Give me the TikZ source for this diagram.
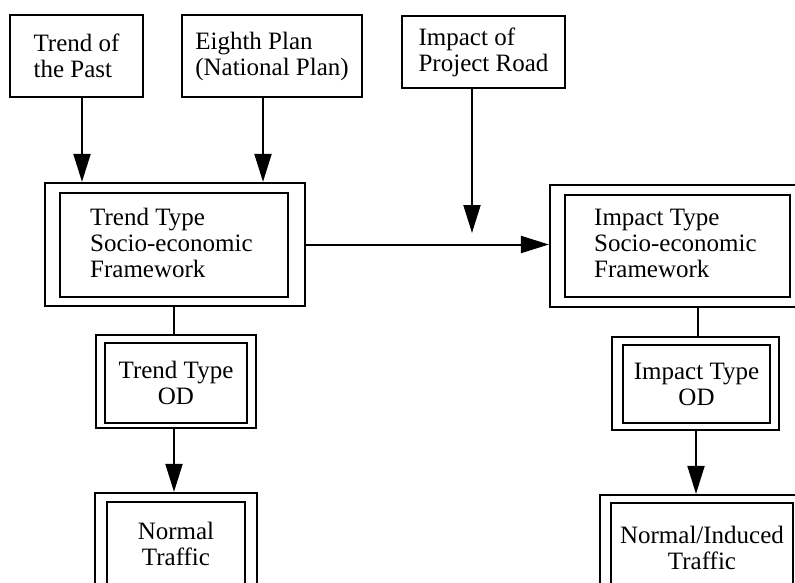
\documentclass[tikz,border=0pt]{standalone}
\usepackage{fontspec}
\setmainfont{Liberation Serif}
\usetikzlibrary{arrows.meta}
\begin{document}
\begin{tikzpicture}[x=1pt,y=-1pt,
  every node/.style={font=\fontsize{25}{26}\selectfont},
  sbox/.style={draw,line width=2pt,rectangle,inner sep=0pt,align=left},
  wbox/.style={draw,line width=2.2pt,rectangle,inner sep=0pt},
  cbox/.style={draw,line width=2.2pt,rectangle,inner sep=0pt,align=center},
  txt/.style={inner sep=0pt,align=left},
  conn/.style={line width=2pt},
  arr/.style={line width=2pt,-{Triangle[length=28pt,width=17pt]}}]
\useasboundingbox (0,0) rectangle (795,583);
\clip (0,0) rectangle (795,583);
% top input boxes
\node[sbox,minimum width=133pt,minimum height=82pt] (past) at (76.5,56) {Trend of\\the Past};
\node[sbox,minimum width=180pt,minimum height=82pt] (plan) at (272,56) {Eighth Plan\\(National Plan)};
\node[sbox,minimum width=163pt,minimum height=72pt] (road) at (483.5,52) {Impact of\\Project Road};
% trend framework
\node[wbox,minimum width=260pt,minimum height=123pt] (tfo) at (175,244.5) {};
\node[wbox,minimum width=228pt,minimum height=104pt] (tfi) at (174,245) {};
\node[txt,anchor=west] (tft) at (90,243) {Trend Type\\Socio-economic\\Framework};
% impact framework
\node[wbox,minimum width=255pt,minimum height=122pt] (ifo) at (677.5,246) {};
\node[wbox,minimum width=225pt,minimum height=102pt] (ifi) at (677.5,246) {};
\node[txt,anchor=west] (ift) at (594,243) {Impact Type\\Socio-economic\\Framework};
% OD boxes
\node[wbox,minimum width=160pt,minimum height=93pt] (tod) at (176,381.5) {};
\node[cbox,minimum width=142pt,minimum height=80pt] (todi) at (176,383) {Trend Type\\OD};
\node[wbox,minimum width=167pt,minimum height=93pt] (iod) at (695.5,383.5) {};
\node[cbox,minimum width=147pt,minimum height=78pt] (iodi) at (696.5,384) {Impact Type\\OD};
% traffic boxes
\node[wbox,minimum width=162pt,minimum height=102pt] (tnt) at (176,544) {};
\node[cbox,minimum width=138pt,minimum height=84pt] (tnti) at (176,544) {Normal\\Traffic};
\node[wbox,minimum width=205pt,minimum height=106pt] (int) at (702.5,548) {};
\node[cbox,minimum width=182pt,minimum height=90pt] (inti) at (702,548) {Normal/Induced\\Traffic};
% connectors
\draw[arr] ([xshift=5.5pt]past.south) -- ([xshift=5.5pt]past.south |- tfo.north);
\draw[arr] ([xshift=-9pt]plan.south) -- ([xshift=-9pt]plan.south |- tfo.north);
\coordinate (rdend) at ([xshift=-11.5pt]road.south |- 0,233);
\draw[arr] ([xshift=-11.5pt]road.south) -- (rdend);
\draw[arr] (tfo.east) -- (tfo.east -| ifo.west);
\draw[conn] ([xshift=-1pt]tfo.south) -- ([xshift=-1pt]tfo.south |- tod.north);
\draw[arr] ([xshift=-2pt]tod.south) -- ([xshift=-2pt]tod.south |- tnt.north);
\draw[conn] ([xshift=2.5pt]iod.north |- ifo.south) -- ([xshift=2.5pt]iod.north);
\draw[arr] ([xshift=0.5pt]iod.south) -- ([xshift=0.5pt]iod.south |- int.north);
\end{tikzpicture}
\end{document}
